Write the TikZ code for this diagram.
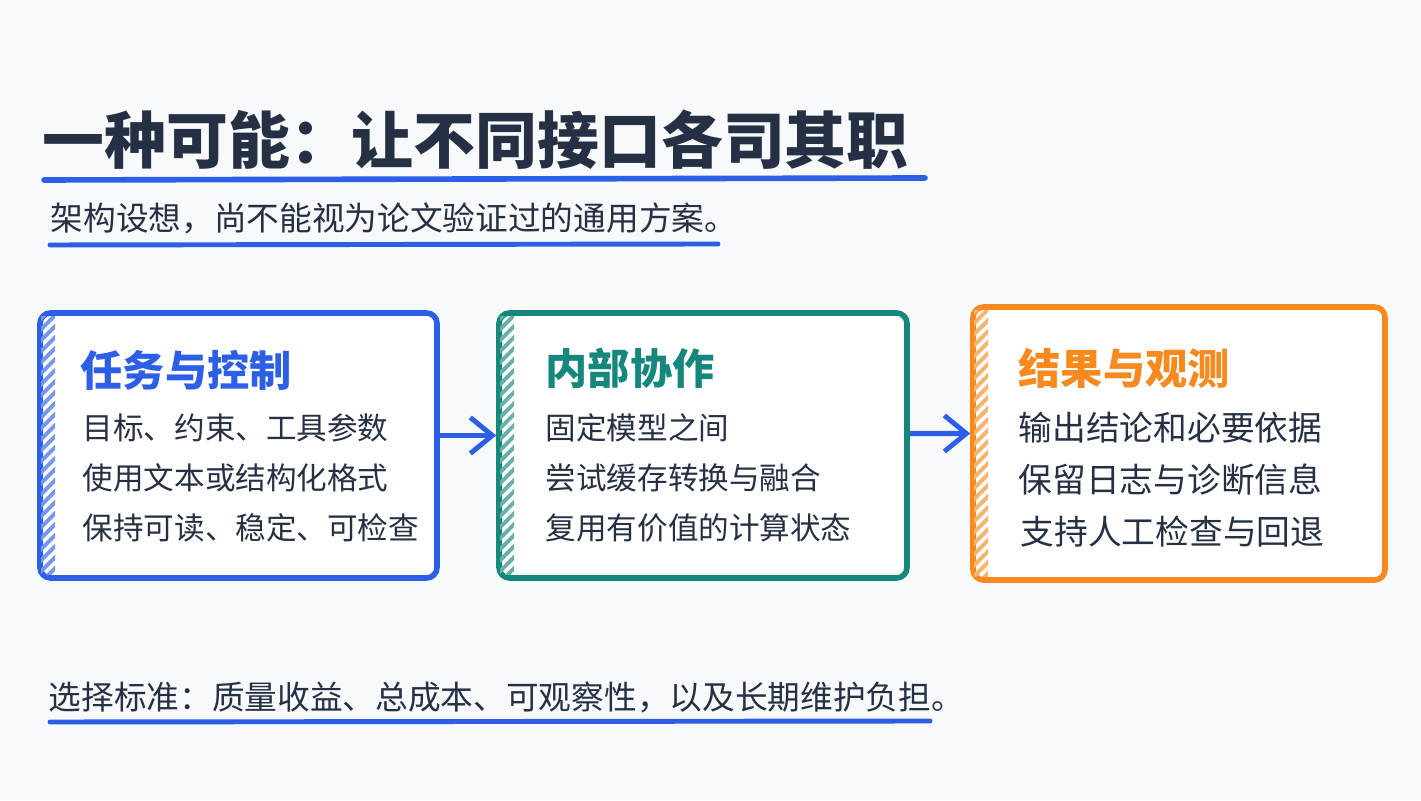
\documentclass[tikz,border=0pt]{standalone}
\usepackage{fontspec}
\setmainfont{Noto Sans CJK SC}
\usepackage{tikz}
\usetikzlibrary{arrows.meta,positioning}
\definecolor{bgpaper}{RGB}{248,249,251}
\definecolor{inkdark}{RGB}{37,48,68}
\definecolor{penblue}{RGB}{45,95,230}
\definecolor{penteal}{RGB}{22,135,124}
\definecolor{penorange}{RGB}{246,138,30}
% diagonal hatch strip along the inner left edge of a box
\newcommand{\hatchstrip}[2]{%
  \begin{scope}
    \clip ([xshift=0.4mm,yshift=-0.6mm]#1.north west) rectangle ([xshift=1.8mm,yshift=0.6mm]#1.south west);
    \foreach \k in {-4,...,28}
      \draw[#2!65, line width=1.1pt] ([xshift=-1mm,yshift=-\k*1.1mm]#1.north west) -- ++(0.3,0.3);
  \end{scope}}

\begin{document}
\begin{tikzpicture}[
  text=inkdark,
  box/.style={draw, rectangle, rounded corners=3pt, fill=white, line width=1.6pt, inner sep=0pt},
  ttl/.style={anchor=west, inner sep=0pt, text=inkdark, font=\fontsize{17.6}{20}\selectfont\bfseries},
  sub/.style={anchor=west, inner sep=0pt, text=inkdark, font=\fontsize{9.3}{11}\selectfont},
  head/.style={anchor=west, inner sep=0pt, font=\fontsize{12}{14}\selectfont\bfseries},
  item/.style={anchor=west, inner sep=0pt, text=inkdark, font=\fontsize{8.7}{10}\selectfont},
  uline/.style={penblue, line width=1.4pt, line cap=round},
  >={Straight Barb[length=2.2mm,width=3.6mm,line width=1.4pt]},
  arrline/.style={->, penblue, line width=1.5pt},
]
\fill[bgpaper] (0,0) rectangle (14.21,8);
\useasboundingbox (0,0) rectangle (14.21,8);

% title and note
\node[ttl] (title) at (0.42,6.60) {一种可能：让不同接口各司其职};
\draw[uline, line width=1.6pt] (0.44,6.20) -- (9.25,6.22);
\node[sub] (note) at (0.50,5.82) {架构设想，尚不能视为论文验证过的通用方案。};
\draw[uline] (0.50,5.55) -- (7.18,5.56);

% three stages
\node[box, draw=penblue, minimum width=3.97cm, minimum height=2.65cm] (task) at (2.385,3.545) {};
\node[box, draw=penteal, minimum width=4.08cm, minimum height=2.65cm] (coop) at (7.03,3.545) {};
\node[box, draw=penorange, minimum width=4.12cm, minimum height=2.73cm] (result) at (11.79,3.565) {};
\hatchstrip{task}{penblue}
\hatchstrip{coop}{penteal}
\hatchstrip{result}{penorange}

\node[head, text=penblue] (taskh) at (0.80,4.30) {任务与控制};
\node[item] (task1) at (0.82,3.72) {目标、约束、工具参数};
\node[item] (task2) at (0.82,3.22) {使用文本或结构化格式};
\node[item] (task3) at (0.82,2.72) {保持可读、稳定、可检查};

\node[head, text=penteal] (cooph) at (5.45,4.32) {内部协作};
\node[item] (coop1) at (5.45,3.72) {固定模型之间};
\node[item] (coop2) at (5.45,3.22) {尝试缓存转换与融合};
\node[item] (coop3) at (5.45,2.72) {复用有价值的计算状态};

\node[head, text=penorange] (resulth) at (10.18,4.32) {结果与观测};
\node[item, font=\fontsize{9.6}{11}\selectfont] (result1) at (10.18,3.72) {输出结论和必要依据};
\node[item, font=\fontsize{9.6}{11}\selectfont] (result2) at (10.18,3.20) {保留日志与诊断信息};
\node[item, font=\fontsize{9.6}{11}\selectfont] (result3) at (10.20,2.68) {支持人工检查与回退};

\draw[arrline] ([yshift=1mm]task.east) -- ([yshift=1mm]coop.west);
\draw[arrline] ([yshift=1.2mm]coop.east) -- ([yshift=1mm]result.west);

% criteria
\node[sub] (crit) at (0.48,1.03) {选择标准：质量收益、总成本、可观察性，以及长期维护负担。};
\draw[uline] (0.50,0.78) -- (9.30,0.79);
\end{tikzpicture}
\end{document}
